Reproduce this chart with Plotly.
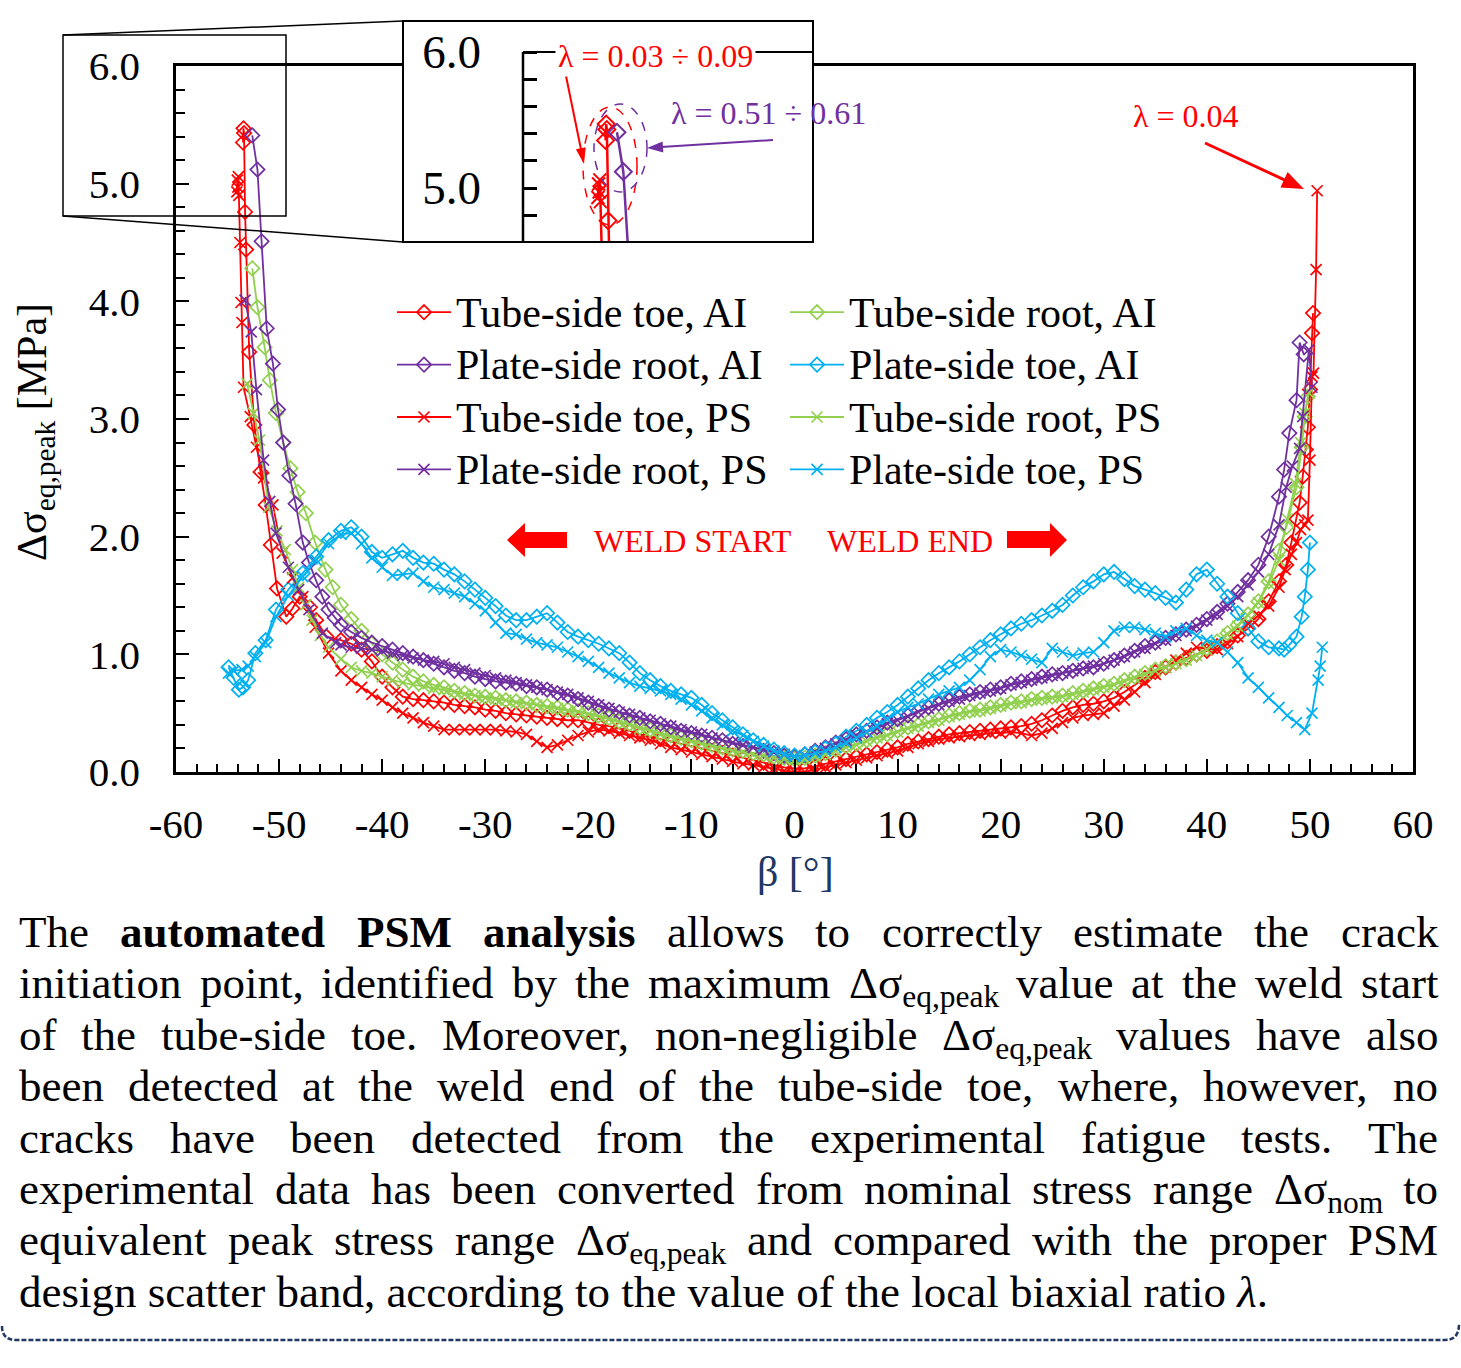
import re
import math
import plotly.graph_objects as go

W, H = 1461, 1368
FONT = "Liberation Serif"

# ---------------- data ----------------
BETA_BODY = [-44, -43, -42, -41, -40, -39, -38, -37, -36, -35, -34, -33, -32, -31, -30,
             -29, -28, -27, -26, -25, -24, -23, -22, -21, -20, -19, -18, -17, -16, -15,
             -14, -13, -12, -11, -10, -9, -8, -7, -6, -5, -4, -3, -2, -1, 0,
             1, 2, 3, 4, 5, 6, 7, 8, 9, 10, 11, 12, 13, 14, 15,
             16, 17, 18, 19, 20, 21, 22, 23, 24, 25, 26, 27, 28, 29, 30,
             31, 32, 33, 34, 35, 36, 37, 38, 39, 40, 41, 42, 43, 44, 45, 46, 47]

# Tube-side toe, AI
TT_AI_HEAD_X = [-53.5, -53.45, -53.4, -53.3, -53.2, -52.9, -52.4, -51.8, -51.3, -50.8, -50.2, -49.3, -48.7, -48.0, -47.0, -46.4, -45.4]
TT_AI_HEAD_Y = [5.35, 5.47, 5.43, 4.76, 4.44, 3.57, 2.95, 2.55, 2.27, 1.93, 1.56, 1.32, 1.39, 1.49, 1.40, 1.29, 1.15]
TT_AI_BODY = [1.12, 1.09, 1.04, 0.94, 0.81, 0.72, 0.64, 0.62, 0.61, 0.60,
              0.59, 0.57, 0.56, 0.55, 0.53, 0.52, 0.50, 0.49, 0.48, 0.47,
              0.46, 0.45, 0.44, 0.44, 0.42, 0.40, 0.39, 0.37, 0.35, 0.32,
              0.30, 0.28, 0.26, 0.24, 0.22, 0.20, 0.18, 0.16, 0.14, 0.12,
              0.10, 0.08, 0.06, 0.04, 0.03, 0.03, 0.05, 0.07, 0.09, 0.11,
              0.13, 0.15, 0.17, 0.19, 0.21, 0.24, 0.26, 0.28, 0.30, 0.32,
              0.33, 0.34, 0.35, 0.36, 0.37, 0.38, 0.39, 0.41, 0.44, 0.48,
              0.52, 0.55, 0.57, 0.58, 0.60, 0.63, 0.68, 0.74, 0.80, 0.85,
              0.89, 0.93, 0.97, 1.00, 1.03, 1.07, 1.11, 1.16, 1.22, 1.30,
              1.45, 1.62]
TT_AI_TAIL_X = [47.7, 48.2, 48.7, 49.0, 49.3, 49.6, 49.8, 50.0, 50.2, 50.3]
TT_AI_TAIL_Y = [1.76, 1.95, 2.15, 2.29, 2.51, 2.74, 2.93, 3.25, 3.73, 3.90]

# Tube-side toe, PS
TT_PS_HEAD_X = [-54.1, -54.05, -54.0, -53.95, -53.9, -53.8, -53.7, -53.6, -53.45, -52.8, -52.2, -51.5, -50.6, -49.7, -48.7, -47.7, -46.5, -45.2]
TT_PS_HEAD_Y = [4.93, 5.03, 4.97, 5.06, 4.90, 4.50, 3.99, 3.82, 3.27, 3.02, 2.76, 2.50, 2.27, 1.86, 1.65, 1.49, 1.23, 1.01]
TT_PS_BODY = [0.86, 0.78, 0.72, 0.66, 0.61, 0.55, 0.50, 0.46, 0.42, 0.39,
              0.36, 0.36, 0.36, 0.36, 0.36, 0.36, 0.35, 0.34, 0.32, 0.26,
              0.21, 0.23, 0.27, 0.31, 0.34, 0.36, 0.35, 0.33, 0.31, 0.29,
              0.27, 0.24, 0.21, 0.19, 0.17, 0.15, 0.13, 0.11, 0.09, 0.07,
              0.06, 0.04, 0.03, 0.01, 0.00, 0.00, 0.02, 0.04, 0.06, 0.08,
              0.10, 0.12, 0.14, 0.16, 0.18, 0.21, 0.24, 0.26, 0.28, 0.29,
              0.30, 0.31, 0.32, 0.33, 0.33, 0.34, 0.33, 0.31, 0.33, 0.37,
              0.42, 0.46, 0.48, 0.49, 0.50, 0.56, 0.61, 0.68, 0.76, 0.83,
              0.89, 0.95, 1.01, 1.06, 1.05, 1.04, 1.09, 1.15, 1.26, 1.33,
              1.41, 1.57]
TT_PS_TAIL_X = [47.6, 48.2, 48.7, 49.1, 49.5, 49.8, 50.0, 50.2, 50.35, 50.6, 50.7]
TT_PS_TAIL_Y = [1.72, 1.85, 1.95, 2.06, 2.10, 2.14, 2.65, 3.36, 3.39, 4.27, 4.94]

# Plate-side root, AI
PR_AI_HEAD_X = [-52.6, -52.1, -51.7, -51.2, -50.6, -50.1, -49.6, -49.0, -48.4, -47.7, -47.1, -46.4, -45.8, -45.2, -44.6]
PR_AI_HEAD_Y = [5.41, 5.12, 4.51, 3.77, 3.47, 3.08, 2.80, 2.52, 2.28, 1.95, 1.78, 1.63, 1.49, 1.38, 1.31]
PR_AI_BODY = [1.25, 1.19, 1.14, 1.10, 1.07, 1.04, 1.01, 0.98, 0.95, 0.92,
              0.89, 0.86, 0.84, 0.81, 0.79, 0.77, 0.76, 0.75, 0.73, 0.72,
              0.70, 0.67, 0.65, 0.62, 0.59, 0.56, 0.53, 0.51, 0.48, 0.46,
              0.43, 0.41, 0.38, 0.35, 0.33, 0.31, 0.29, 0.27, 0.24, 0.22,
              0.20, 0.18, 0.16, 0.14, 0.13, 0.15, 0.18, 0.21, 0.25, 0.28,
              0.32, 0.35, 0.38, 0.42, 0.45, 0.48, 0.52, 0.55, 0.58, 0.61,
              0.64, 0.66, 0.68, 0.70, 0.72, 0.75, 0.77, 0.79, 0.81, 0.83,
              0.84, 0.86, 0.88, 0.89, 0.92, 0.95, 0.99, 1.03, 1.07, 1.10,
              1.14, 1.17, 1.21, 1.25, 1.30, 1.36, 1.43, 1.53, 1.63, 1.76,
              2.00, 2.34]
PR_AI_TAIL_X = [47.5, 48.0, 48.7, 49.0, 49.4]
PR_AI_TAIL_Y = [2.57, 2.88, 3.16, 3.65, 3.55]

# Plate-side root, PS
PR_PS_HEAD_X = [-53.3, -52.7, -52.2, -51.5, -50.9, -50.3, -49.1, -48.1, -47.1, -45.8, -44.5]
PR_PS_HEAD_Y = [4.01, 3.74, 3.25, 2.65, 2.30, 2.03, 1.74, 1.55, 1.38, 1.18, 1.10]
PR_PS_BODY = [1.08, 1.06, 1.05, 1.04, 1.03, 1.01, 0.99, 0.97, 0.95, 0.94,
              0.92, 0.89, 0.87, 0.84, 0.82, 0.80, 0.78, 0.76, 0.74, 0.72,
              0.70, 0.68, 0.66, 0.63, 0.60, 0.57, 0.54, 0.51, 0.49, 0.46,
              0.44, 0.41, 0.39, 0.36, 0.34, 0.32, 0.29, 0.27, 0.25, 0.23,
              0.21, 0.19, 0.17, 0.15, 0.13, 0.14, 0.17, 0.20, 0.24, 0.27,
              0.31, 0.34, 0.37, 0.41, 0.44, 0.47, 0.51, 0.54, 0.57, 0.60,
              0.62, 0.65, 0.67, 0.69, 0.71, 0.74, 0.76, 0.78, 0.80, 0.82,
              0.84, 0.86, 0.88, 0.90, 0.92, 0.95, 0.98, 1.02, 1.05, 1.09,
              1.12, 1.16, 1.20, 1.24, 1.29, 1.34, 1.41, 1.49, 1.59, 1.70,
              1.85, 2.10]
PR_PS_TAIL_X = [47.7, 48.3, 49.0, 49.3, 49.9, 50.2]
PR_PS_TAIL_Y = [2.42, 2.60, 2.75, 3.02, 3.59, 3.27]

# Tube-side root, AI
TR_AI_HEAD_X = [-52.6, -52.1, -51.4, -50.9, -50.3, -49.6, -48.9, -48.2, -47.4, -46.5, -45.5, -44.8]
TR_AI_HEAD_Y = [4.28, 3.95, 3.61, 3.33, 3.05, 2.80, 2.58, 2.38, 2.20, 1.95, 1.72, 1.57]
TR_AI_BODY = [1.42, 1.30, 1.20, 1.09, 1.00, 0.93, 0.87, 0.81, 0.77, 0.74,
              0.72, 0.69, 0.67, 0.65, 0.64, 0.63, 0.61, 0.60, 0.59, 0.57,
              0.56, 0.55, 0.53, 0.52, 0.50, 0.48, 0.46, 0.43, 0.41, 0.38,
              0.36, 0.33, 0.31, 0.29, 0.27, 0.25, 0.23, 0.21, 0.19, 0.18,
              0.16, 0.15, 0.13, 0.12, 0.11, 0.12, 0.14, 0.16, 0.19, 0.22,
              0.24, 0.27, 0.30, 0.32, 0.35, 0.38, 0.40, 0.43, 0.45, 0.48,
              0.50, 0.52, 0.53, 0.55, 0.57, 0.59, 0.60, 0.62, 0.63, 0.64,
              0.65, 0.67, 0.69, 0.71, 0.73, 0.75, 0.78, 0.81, 0.84, 0.87,
              0.90, 0.93, 0.96, 1.00, 1.05, 1.11, 1.18, 1.25, 1.34, 1.45,
              1.62, 1.88]
TR_AI_TAIL_X = [47.7, 48.7, 49.2, 49.5, 49.8]
TR_AI_TAIL_Y = [2.08, 2.42, 2.76, 3.02, 3.19]

# Tube-side root, PS
TR_PS_HEAD_X = [-53.1, -52.5, -51.9, -51.0, -50.2, -49.4, -48.7, -48.1, -47.4, -46.8, -46.0, -45.2]
TR_PS_HEAD_Y = [3.30, 3.05, 2.82, 2.25, 2.05, 1.89, 1.72, 1.57, 1.42, 1.29, 1.16, 1.06]
TR_PS_BODY = [0.96, 0.89, 0.86, 0.84, 0.81, 0.78, 0.76, 0.74, 0.73, 0.71,
              0.70, 0.68, 0.66, 0.65, 0.63, 0.62, 0.61, 0.59, 0.58, 0.57,
              0.55, 0.54, 0.52, 0.51, 0.49, 0.47, 0.45, 0.42, 0.40, 0.37,
              0.35, 0.32, 0.30, 0.28, 0.26, 0.24, 0.22, 0.20, 0.18, 0.17,
              0.15, 0.14, 0.12, 0.11, 0.10, 0.11, 0.13, 0.15, 0.18, 0.21,
              0.23, 0.26, 0.29, 0.31, 0.34, 0.37, 0.39, 0.42, 0.44, 0.47,
              0.49, 0.51, 0.52, 0.54, 0.56, 0.58, 0.59, 0.61, 0.62, 0.63,
              0.64, 0.66, 0.68, 0.70, 0.72, 0.74, 0.77, 0.80, 0.83, 0.86,
              0.89, 0.92, 0.95, 0.99, 1.04, 1.10, 1.17, 1.24, 1.33, 1.44,
              1.60, 1.80]
TR_PS_TAIL_X = [47.8, 48.6, 49.1, 49.5, 49.9]
TR_PS_TAIL_Y = [2.15, 2.45, 2.80, 3.05, 3.22]

# Plate-side toe, AI
PT_AI_HEAD_X = [-54.9, -54.4, -53.9, -53.5, -53.0, -52.3, -51.3, -50.3, -49.1, -47.7, -46.4, -45.2]
PT_AI_HEAD_Y = [0.89, 0.80, 0.70, 0.72, 0.78, 1.01, 1.12, 1.38, 1.55, 1.69, 1.83, 1.97]
PT_AI_BODY = [2.05, 2.08, 2.00, 1.87, 1.82, 1.85, 1.88, 1.82, 1.78, 1.77,
              1.72, 1.68, 1.62, 1.55, 1.48, 1.41, 1.33, 1.29, 1.29, 1.32,
              1.35, 1.27, 1.19, 1.15, 1.12, 1.09, 1.05, 1.01, 0.93, 0.84,
              0.78, 0.73, 0.69, 0.66, 0.63, 0.57, 0.50, 0.44, 0.38, 0.32,
              0.27, 0.23, 0.19, 0.16, 0.14, 0.15, 0.17, 0.20, 0.24, 0.30,
              0.35, 0.40, 0.46, 0.51, 0.57, 0.64, 0.71, 0.78, 0.84, 0.89,
              0.94, 1.00, 1.06, 1.12, 1.17, 1.22, 1.26, 1.29, 1.33, 1.37,
              1.42, 1.50, 1.57, 1.62, 1.68, 1.70, 1.64, 1.58, 1.55, 1.52,
              1.48, 1.44, 1.55, 1.68, 1.72, 1.60, 1.49, 1.35, 1.22, 1.11,
              1.06, 1.05]
PT_AI_TAIL_X = [47.5, 48.0, 48.7, 49.2, 49.5, 49.8, 50.0]
PT_AI_TAIL_Y = [1.04, 1.08, 1.15, 1.32, 1.49, 1.72, 1.95]

# Plate-side toe, PS
PT_PS_HEAD_X = [-54.9, -54.4, -53.6, -53.0, -52.3, -51.3, -50.3, -49.1, -47.7, -46.4, -45.2]
PT_PS_HEAD_Y = [0.84, 0.86, 0.87, 0.90, 0.98, 1.10, 1.32, 1.50, 1.66, 1.80, 1.94]
PT_PS_BODY = [2.02, 2.03, 1.94, 1.82, 1.74, 1.67, 1.68, 1.69, 1.62, 1.57,
              1.55, 1.52, 1.49, 1.43, 1.37, 1.27, 1.18, 1.17, 1.13, 1.10,
              1.08, 1.06, 1.02, 0.98, 0.94, 0.89, 0.84, 0.80, 0.76, 0.73,
              0.71, 0.69, 0.66, 0.62, 0.57, 0.52, 0.46, 0.40, 0.35, 0.31,
              0.26, 0.22, 0.18, 0.15, 0.13, 0.14, 0.16, 0.18, 0.21, 0.25,
              0.29, 0.34, 0.39, 0.45, 0.51, 0.55, 0.58, 0.62, 0.66, 0.69,
              0.72, 0.78, 0.87, 0.98, 1.04, 1.02, 0.99, 0.96, 0.93, 1.05,
              1.02, 0.99, 1.01, 1.02, 1.10, 1.20, 1.23, 1.23, 1.21, 1.18,
              1.15, 1.20, 1.22, 1.16, 1.12, 1.10, 1.02, 0.93, 0.80, 0.72,
              0.63, 0.55]
PT_PS_TAIL_X = [47.8, 48.7, 49.5, 50.2, 50.8, 51.0, 51.2]
PT_PS_TAIL_Y = [0.48, 0.42, 0.36, 0.50, 0.78, 0.90, 1.06]

X_TICK_VALS = [-60, -50, -40, -30, -20, -10, 0, 10, 20, 30, 40, 50, 60]
X_TICK_TEXT = ["-60", "-50", "-40", "-30", "-20", "-10", "0", "10", "20", "30", "40", "50", "60"]
Y_TICK_VALS = [0, 1, 2, 3, 4, 5, 6]
Y_TICK_TEXT = ["0.0", "1.0", "2.0", "3.0", "4.0", "5.0", "6.0"]
INSET_TICK_VALS = [5.0, 6.0]
INSET_TICK_TEXT = ["5.0", "6.0"]
INSET_MINOR_VALS = [4.8, 5.2, 5.4, 5.6, 5.8]

RED, PURPLE, GREEN, CYAN = "#FF0000", "#7030A0", "#92D050", "#00B0F0"

SERIES = [
    # name, head_x, head_y, body, tail_x, tail_y, color, symbol, legend
    ("Tube-side toe, AI", TT_AI_HEAD_X, TT_AI_HEAD_Y, TT_AI_BODY, TT_AI_TAIL_X, TT_AI_TAIL_Y, RED, "diamond-open", "legend"),
    ("Tube-side root, AI", TR_AI_HEAD_X, TR_AI_HEAD_Y, TR_AI_BODY, TR_AI_TAIL_X, TR_AI_TAIL_Y, GREEN, "diamond-open", "legend2"),
    ("Plate-side root, AI", PR_AI_HEAD_X, PR_AI_HEAD_Y, PR_AI_BODY, PR_AI_TAIL_X, PR_AI_TAIL_Y, PURPLE, "diamond-open", "legend"),
    ("Plate-side toe, AI", PT_AI_HEAD_X, PT_AI_HEAD_Y, PT_AI_BODY, PT_AI_TAIL_X, PT_AI_TAIL_Y, CYAN, "diamond-open", "legend2"),
    ("Tube-side toe, PS", TT_PS_HEAD_X, TT_PS_HEAD_Y, TT_PS_BODY, TT_PS_TAIL_X, TT_PS_TAIL_Y, RED, "x-thin-open", "legend"),
    ("Tube-side root, PS", TR_PS_HEAD_X, TR_PS_HEAD_Y, TR_PS_BODY, TR_PS_TAIL_X, TR_PS_TAIL_Y, GREEN, "x-thin-open", "legend2"),
    ("Plate-side root, PS", PR_PS_HEAD_X, PR_PS_HEAD_Y, PR_PS_BODY, PR_PS_TAIL_X, PR_PS_TAIL_Y, PURPLE, "x-thin-open", "legend"),
    ("Plate-side toe, PS", PT_PS_HEAD_X, PT_PS_HEAD_Y, PT_PS_BODY, PT_PS_TAIL_X, PT_PS_TAIL_Y, CYAN, "x-thin-open", "legend2"),
]
INSET_SERIES = ["Tube-side toe, AI", "Plate-side root, AI", "Tube-side toe, PS"]

PARAGRAPH = [
    "The <b>automated</b> <b>PSM</b> <b>analysis</b> allows to correctly estimate the crack",
    "initiation point, identified by the maximum Δσ<sub>eq,peak</sub> value at the weld start",
    "of the tube-side toe. Moreover, non-negligible Δσ<sub>eq,peak</sub> values have also",
    "been detected at the weld end of the tube-side toe, where, however, no",
    "cracks have been detected from the experimental fatigue tests. The",
    "experimental data has been converted from nominal stress range Δσ<sub>nom</sub> to",
    "equivalent peak stress range Δσ<sub>eq,peak</sub> and compared with the proper PSM",
]
PARAGRAPH_LAST = "design scatter band, according to the value of the local biaxial ratio <i>λ</i>."


def px(x):
    return x / W


def py(y):
    return 1 - y / H


fig = go.Figure()

built = {}
for name, hx, hy, body, tx, ty, color, sym, leg in SERIES:
    xs = hx + BETA_BODY + tx
    ys = hy + body + ty
    built[name] = (xs, ys, color, sym)
    fig.add_trace(go.Scatter(
        x=xs, y=ys, mode="lines+markers",
        name="<span style='font-size:42px'>" + name + "</span>", legend=leg,
        line=dict(color=color, width=1.8),
        marker=dict(symbol=sym, size=11, color=color, line=dict(color=color, width=1.7)),
        xaxis="x", yaxis="y"))

for name in INSET_SERIES:
    xs, ys, color, sym = built[name]
    fig.add_trace(go.Scatter(
        x=xs, y=ys, mode="lines+markers", name=name, showlegend=False,
        line=dict(color=color, width=2.5),
        marker=dict(symbol=sym, size=13, color=color, line=dict(color=color, width=2)),
        xaxis="x2", yaxis="y2"))

# ------------- inset geometry -------------
INSET_L, INSET_R, INSET_T, INSET_B = 403, 813, 21, 242
SPINE_X, TOP_Y = 523, 52
IN_PX_PER_DEG = 12.7
IN_PX_PER_UNIT = 136.0
in_x0 = -60 - (SPINE_X - INSET_L) / IN_PX_PER_DEG
in_x1 = -60 + (INSET_R - SPINE_X) / IN_PX_PER_DEG
in_y0 = 6.0 - (INSET_B - TOP_Y) / IN_PX_PER_UNIT
in_y1 = 6.0 + (TOP_Y - INSET_T) / IN_PX_PER_UNIT

tickfont = dict(family=FONT, size=41, color="black")
legfont = dict(family=FONT, size=38, color="black")

fig.update_layout(
    template="none",
    width=W, height=H,
    margin=dict(l=0, r=0, t=0, b=0),
    paper_bgcolor="white", plot_bgcolor="white",
    font=dict(family=FONT, color="black"),
    xaxis=dict(domain=[px(176), px(1413)], range=[-60, 60], anchor="y",
               tickmode="array", tickvals=X_TICK_VALS, ticktext=X_TICK_TEXT,
               ticks="inside", ticklen=13, tickwidth=2, tickcolor="black",
               minor=dict(tickmode="linear", tick0=-60, dtick=2, ticks="inside",
                          ticklen=8, tickwidth=1.5, tickcolor="black"),
               showline=True, linewidth=2.5, linecolor="black", mirror=True,
               showgrid=False, zeroline=False, tickfont=tickfont,
               ticklabelstandoff=14),
    yaxis=dict(domain=[py(772), py(66)], range=[0, 6], anchor="x",
               tickmode="array", tickvals=Y_TICK_VALS, ticktext=Y_TICK_TEXT,
               ticks="inside", ticklen=13, tickwidth=2, tickcolor="black",
               minor=dict(tickmode="linear", tick0=0, dtick=0.2, ticks="inside",
                          ticklen=9, tickwidth=1.5, tickcolor="black"),
               showline=True, linewidth=2.5, linecolor="black", mirror=True,
               showgrid=False, zeroline=False, tickfont=tickfont,
               ticklabelstandoff=25),
    xaxis2=dict(domain=[px(INSET_L), px(INSET_R)], range=[in_x0, in_x1], anchor="y2",
                showticklabels=False, ticks="", showline=False, showgrid=False, zeroline=False),
    yaxis2=dict(domain=[py(INSET_B), py(INSET_T)], range=[in_y0, in_y1], anchor="free",
                position=px(SPINE_X), tickmode="array", tickvals=INSET_TICK_VALS,
                ticktext=INSET_TICK_TEXT, ticks="inside", ticklen=13, tickwidth=2.5,
                tickcolor="black",
                minor=dict(tickmode="array", tickvals=INSET_MINOR_VALS, ticks="inside",
                           ticklen=13, tickwidth=2.5, tickcolor="black"),
                showline=False, showgrid=False, zeroline=False,
                tickfont=dict(family=FONT, size=47, color="black"), ticklabelstandoff=42),
    legend=dict(x=px(392), y=py(281), xanchor="left", yanchor="top",
                bgcolor="rgba(0,0,0,0)", font=legfont,
                itemwidth=54, traceorder="normal", tracegroupgap=0),
    legend2=dict(x=px(785), y=py(281), xanchor="left", yanchor="top",
                 bgcolor="rgba(0,0,0,0)", font=legfont,
                 itemwidth=54, traceorder="normal", tracegroupgap=0),
    showlegend=True,
)

# ------------- shapes -------------
shapes = []


def pline(x0, y0, x1, y1, color="black", width=1.5, dash="solid"):
    shapes.append(dict(type="line", xref="paper", yref="paper", x0=px(x0), y0=py(y0),
                       x1=px(x1), y1=py(y1), line=dict(color=color, width=width, dash=dash),
                       layer="above"))


def poly(points, color):
    d = "M" + " L".join(f"{px(x):.5f},{py(y):.5f}" for x, y in points) + " Z"
    shapes.append(dict(type="path", xref="paper", yref="paper", path=d, fillcolor=color,
                       line=dict(width=0), layer="above"))


def arrow(x0, y0, x1, y1, color, width, head_len, head_w):
    """Straight arrow drawn from tail (x0, y0) to tip (x1, y1), in figure pixels."""
    dx, dy = x1 - x0, y1 - y0
    n = math.hypot(dx, dy)
    ux, uy = dx / n, dy / n
    bx, by = x1 - ux * head_len, y1 - uy * head_len
    pline(x0, y0, bx + ux * 2, by + uy * 2, color=color, width=width)
    vx, vy = -uy, ux
    poly([(x1, y1), (bx + vx * head_w / 2, by + vy * head_w / 2),
          (bx - vx * head_w / 2, by - vy * head_w / 2)], color)


# zoom rectangle and connectors
shapes.append(dict(type="rect", xref="paper", yref="paper", x0=px(63), x1=px(286),
                   y0=py(216), y1=py(35), line=dict(color="black", width=1.5), layer="above"))
pline(63, 35, INSET_L, INSET_T)
pline(63, 216, INSET_L, INSET_B)
# inset frame
shapes.append(dict(type="rect", xref="paper", yref="paper", x0=px(INSET_L), x1=px(INSET_R),
                   y0=py(INSET_B), y1=py(INSET_T), line=dict(color="black", width=2), layer="above"))
# inset spines
shapes.append(dict(type="line", xref="x2", yref="y2", x0=-60, x1=-60, y0=in_y0, y1=6.0,
                   line=dict(color="black", width=2.5), layer="above"))
shapes.append(dict(type="line", xref="x2", yref="y2", x0=-60, x1=in_x1, y0=6.0, y1=6.0,
                   line=dict(color="black", width=2), layer="above"))
# dashed ellipses in inset
shapes.append(dict(type="circle", xref="paper", yref="paper", x0=px(583), x1=px(637),
                   y0=py(225), y1=py(107), line=dict(color=RED, width=1.5, dash="dash"), layer="above"))
shapes.append(dict(type="circle", xref="paper", yref="paper", x0=px(594), x1=px(647),
                   y0=py(192), y1=py(104), line=dict(color=PURPLE, width=1.5, dash="dash"), layer="above"))
# block arrows
poly([(507, 540), (525, 523), (525, 532), (567, 532), (567, 548), (525, 548), (525, 557)], RED)
poly([(1067, 540), (1050, 523), (1050, 531), (1007, 531), (1007, 548), (1050, 548), (1050, 557)], RED)
# annotation arrows
arrow(1205, 143, 1304, 189, RED, 3, 22, 17)
arrow(566, 76, 584, 164, RED, 2, 16, 10)
arrow(773, 140, 647, 148, PURPLE, 2, 16, 11)
# bottom dashed border
bd = (f"M{px(2):.5f},{py(1326):.5f} Q{px(2):.5f},{py(1340):.5f} {px(16):.5f},{py(1340):.5f} "
      f"L{px(1445):.5f},{py(1340):.5f} Q{px(1459):.5f},{py(1340):.5f} {px(1459):.5f},{py(1324):.5f}")
shapes.append(dict(type="path", xref="paper", yref="paper", path=bd,
                   line=dict(color="#203864", width=2.5, dash="5px,2px"), layer="above"))

# ------------- annotations -------------
anns = []


def ann(x, y, text, size, color="black", xanchor="center", yanchor="middle", **kw):
    anns.append(dict(x=px(x), y=py(y), xref="paper", yref="paper", text=text, showarrow=False,
                     font=dict(family=FONT, size=size, color=color), xanchor=xanchor,
                     yanchor=yanchor, **kw))


ann(35, 432, "Δσ<sub>eq,peak</sub> [MPa]", 42, textangle=-90)
ann(795, 872, "β [°]", 42, color="#203864")
ann(693, 541, "WELD START", 32, color=RED)
ann(910, 541, "WELD END", 32, color=RED)
ann(1186, 116, "λ = 0.04", 32, color=RED)
ann(655, 56, "λ = 0.03 ÷ 0.09", 32, color=RED, bgcolor="white", borderpad=2)
ann(768, 113, "λ = 0.51 ÷ 0.61", 32, color=PURPLE)

# paragraph, justified word by word
REG = {" ": 250, ",": 250, ".": 250, "-": 333, "Δ": 612, "σ": 550, "λ": 500}
BOLD = {" ": 250}
for c, w in zip("abcdefghijklmnopqrstuvwxyz",
                [444, 500, 444, 500, 444, 333, 500, 500, 278, 278, 500, 278, 778, 500, 500, 500,
                 500, 333, 389, 278, 500, 500, 722, 500, 500, 444]):
    REG[c] = w
for c, w in zip("ABCDEFGHIJKLMNOPQRSTUVWXYZ",
                [722, 667, 667, 722, 611, 556, 722, 722, 333, 389, 722, 611, 889, 722, 722, 556,
                 722, 667, 556, 611, 722, 722, 944, 722, 722, 611]):
    REG[c] = w
for c, w in zip("abcdefghijklmnopqrstuvwxyz",
                [500, 556, 444, 556, 444, 333, 500, 556, 278, 333, 556, 278, 833, 556, 500, 556,
                 556, 444, 389, 333, 556, 500, 722, 500, 500, 444]):
    BOLD[c] = w
for c, w in zip("ABCDEFGHIJKLMNOPQRSTUVWXYZ",
                [722, 667, 722, 722, 667, 611, 778, 778, 389, 500, 778, 667, 944, 722, 778, 611,
                 778, 722, 556, 667, 722, 722, 1000, 722, 722, 667]):
    BOLD[c] = w


def text_width(s, size):
    total, scale, bold = 0.0, 1.0, False
    for tok in re.split(r"(<[^>]+>)", s):
        if tok.startswith("<"):
            closing = tok.startswith("</")
            tag = tok.strip("</>").lower()
            if tag == "sub":
                scale = 1.0 if closing else 0.7
            elif tag == "b":
                bold = not closing
            continue
        for ch in tok:
            tbl = BOLD if bold else REG
            total += tbl.get(ch, REG.get(ch, 500)) * scale
    return total / 1000.0 * size


P_SIZE = 45
P_LEFT, P_RIGHT = 18, 1437
P_TOP0, P_STEP = 905, 51.4
for i, line in enumerate(PARAGRAPH):
    words = line.split(" ")
    widths = [text_width(w, P_SIZE) for w in words]
    gap = (P_RIGHT - P_LEFT - sum(widths)) / (len(words) - 1)
    xcur = P_LEFT
    top = P_TOP0 + i * P_STEP
    for w, wd in zip(words, widths):
        ann(xcur - 1, top, w, P_SIZE, xanchor="left", yanchor="top")
        xcur += wd + gap
ann(P_LEFT - 1, P_TOP0 + len(PARAGRAPH) * P_STEP, PARAGRAPH_LAST, P_SIZE, xanchor="left", yanchor="top")

fig.update_layout(shapes=shapes, annotations=anns)
fig.write_html("out.html", config={"displayModeBar": False},
               post_script="document.body.style.margin='0';document.body.style.overflow='hidden';")
